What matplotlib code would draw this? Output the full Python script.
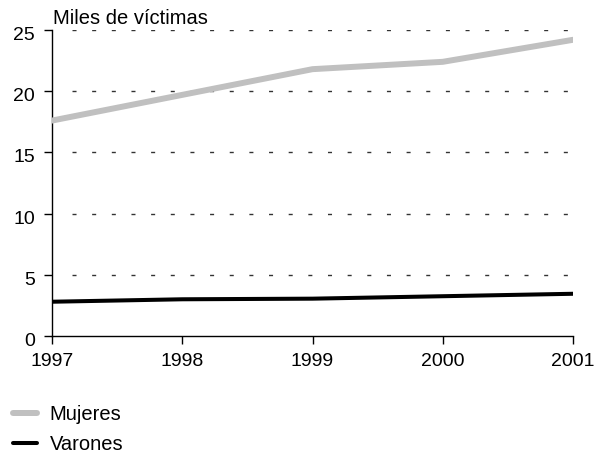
import matplotlib
matplotlib.use("Agg")
import matplotlib.pyplot as plt
from matplotlib.lines import Line2D
from matplotlib.transforms import ScaledTranslation

#----- Data -----
years = [1997, 1998, 1999, 2000, 2001]
mujeres = [17.6, 19.7, 21.8, 22.4, 24.2]
varones = [2.8, 3.0, 3.05, 3.25, 3.45]
y_ticks = [0, 5, 10, 15, 20, 25]
y_label = "Miles de víctimas"
series_names = ["Mujeres", "Varones"]

#----- Plot graph -----
plt.rcParams.update({"font.family": ["Liberation Sans", "DejaVu Sans"], "font.size": 14})
fig = plt.figure(figsize=(6.11, 4.59), dpi=100)
# axes box: x 52..573 px, y 30..336 px
ax_w_px, ax_h_px = 521, 306
ax = fig.add_axes([52 / 611, 1 - 336 / 459, ax_w_px / 611, ax_h_px / 459])

# dashed guide lines: start ~20 px right of the y axis, stop just short of the last year
span = years[-1] - years[0]
gx0 = years[0] + span * 20 / ax_w_px
gx1 = years[-1] - span * 4 / ax_w_px
for yv in y_ticks[1:]:
    ax.plot([gx0, gx1], [yv, yv], color="#333333", lw=1,
            linestyle=(0, (2.9, 11.25)), zorder=1)

ax.plot(years, mujeres, color="#c0c0c0", lw=4.3, solid_capstyle="round", zorder=3)
ax.plot(years, varones, color="black", lw=2.9, solid_capstyle="round", zorder=3)

ax.set_xlim(years[0], years[-1])
ax.set_ylim(0, 25)
ax.set_xticks(years)
ax.set_yticks(y_ticks)
ax.spines["top"].set_visible(False)
ax.spines["right"].set_visible(False)
for sp in ["left", "bottom"]:
    ax.spines[sp].set_linewidth(1.0)
ax.tick_params(axis="both", direction="out", width=1, length=5.8, colors="black", labelsize=14)
ax.tick_params(axis="y", pad=6.3)
ax.tick_params(axis="x", pad=6.5)
shift = ScaledTranslation(0, -3.5 / 100, fig.dpi_scale_trans)
for lab in ax.get_yticklabels():
    lab.set_transform(lab.get_transform() + shift)

ax.text(0.0015, 1 + 5.5 / ax_h_px, y_label, transform=ax.transAxes, fontsize=14.5,
        ha="left", va="baseline")

handles = [Line2D([], [], color="#c0c0c0", lw=4.3, solid_capstyle="round"),
           Line2D([], [], color="black", lw=2.9, solid_capstyle="round")]
fig.legend(handles, series_names, loc="lower left", bbox_to_anchor=(4.7 / 611, -3 / 459),
           frameon=False, fontsize=14.5, handlelength=1.2, handletextpad=0.63,
           labelspacing=0.55, borderaxespad=0)

plt.savefig("out.png", dpi=100)
